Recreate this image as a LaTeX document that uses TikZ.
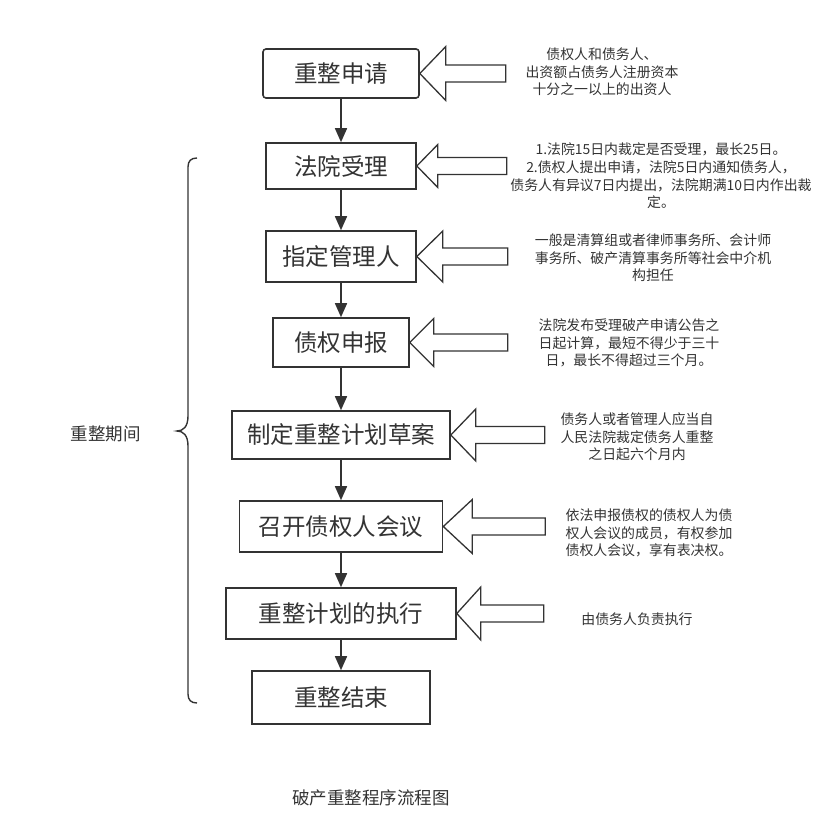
\documentclass[tikz,border=0pt]{standalone}
\usepackage{fontspec}
\usepackage{xcolor}
\usepackage{tikz}
\usetikzlibrary{arrows.meta}
\newfontfamily\cjk{Noto Sans CJK SC}
\definecolor{tinta}{HTML}{333333}

\tikzset{
  etapa/.style={draw=tinta, line width=1.6pt, fill=white, text=tinta, inner sep=0pt,
    font=\cjk\fontsize{23.5}{28}\selectfont},
  nota/.style={text=tinta, align=center, inner sep=0pt, font=\cjk\fontsize{13.9}{17.6}\selectfont},
  seta/.style={draw=tinta, line width=1.6pt, -{Triangle[length=14pt,width=12pt]}},
  oca/.style={draw=tinta, line width=1.3pt, fill=white, line join=miter},
}

\begin{document}
\begin{tikzpicture}[x=1pt, y=-1pt]
  \useasboundingbox (0,0) rectangle (835,834);
  % etapas do processo
  \node[etapa, rounded corners=3pt, minimum width=156pt, minimum height=49pt] (b1) at (341,73.5) {重整申请};
  \node[etapa, minimum width=150pt, minimum height=46pt] (b2) at (341,166) {法院受理};
  \node[etapa, minimum width=150pt, minimum height=51pt] (b3) at (341,256.5) {指定管理人};
  \node[etapa, minimum width=136pt, minimum height=49pt] (b4) at (341,342.5) {债权申报};
  \node[etapa, minimum width=218pt, minimum height=48pt] (b5) at (341,435) {制定重整计划草案};
  \node[etapa, minimum width=203pt, minimum height=51pt] (b6) at (341,526.5) {召开债权人会议};
  \node[etapa, minimum width=230pt, minimum height=51pt] (b7) at (341,613.5) {重整计划的执行};
  \node[etapa, minimum width=178pt, minimum height=53pt] (b8) at (341,697.5) {重整结束};
  \foreach \a/\b in {b1/b2,b2/b3,b3/b4,b4/b5,b5/b6,b6/b7,b7/b8}{
    \draw[seta] (\a.south) -- (\b.north);
  }
  % setas ocas vindas das notas
  \foreach \b/\hl/\hh/\len in {b1/26/27/86, b2/21/21.5/90, b3/26/25.5/91, b4/24/24/98,
                               b5/25/26/94, b6/29/27/102, b7/24/26.5/87}{
    \draw[oca] (\b.east) -- ++(\hl,-\hh) -- ++(0,{\hh-8.5}) -- ++({\len-\hl},0) -- ++(0,17)
      -- ++({\hl-\len},0) -- ++(0,{\hh-8.5}) -- cycle;
  }
  % notas
  \node[nota] (n1) at (602,72) {债权人和债务人、\\出资额占债务人注册资本\\十分之一以上的出资人};
  \node[nota] (n2) at (661,176) {1.法院15日内裁定是否受理，最长25日。\\2.债权人提出申请，法院5日内通知债务人，\\债务人有异议7日内提出，法院期满10日内作出裁\\定。};
  \node[nota] (n3) at (653,258) {一般是清算组或者律师事务所、会计师\\事务所、破产清算事务所等社会中介机\\构担任};
  \node[nota] (n4) at (629,343) {法院发布受理破产申请公告之\\日起计算，最短不得少于三十\\日，最长不得超过三个月。};
  \node[nota] (n5) at (637,437) {债务人或者管理人应当自\\人民法院裁定债务人重整\\之日起六个月内};
  \node[nota] (n6) at (649,533) {依法申报债权的债权人为债\\权人会议的成员，有权参加\\债权人会议，享有表决权。};
  \node[nota] (n7) at (637,619) {由债务人负责执行};
  % chave do periodo
  \draw[tinta, line width=1.4pt] (197,158) .. controls (191,158) and (188,161) .. (188,167)
    -- (188,416) .. controls (188,427) and (183,431) .. (177,431)
    .. controls (183,431) and (188,435) .. (188,446)
    -- (188,694) .. controls (188,700) and (191,703) .. (197,703);
  \node[text=tinta, font=\cjk\fontsize{17.5}{21}\selectfont] (periodo) at (105.5,434) {重整期间};
  \node[text=tinta, font=\cjk\fontsize{17.5}{21}\selectfont] (titulo) at (371,798) {破产重整程序流程图};
\end{tikzpicture}
\end{document}
